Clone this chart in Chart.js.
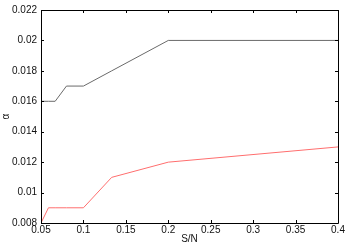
<!DOCTYPE html>
<html>
<head>
<meta charset="utf-8">
<script src="https://cdn.jsdelivr.net/npm/chart.js@4"></script>
<style>
  html, body { margin: 0; padding: 0; background: #fff; }
  #wrap { width: 350px; height: 245px; }
</style>
</head>
<body>
<div id="wrap"><canvas id="chart"></canvas></div>
<script>
// S/N values and the two alpha curves
const snValues = [0.05, 0.0588, 0.0667, 0.08, 0.1, 0.1333, 0.2, 0.4];
const alphaUpper = [0.016, 0.016, 0.016, 0.017, 0.017, 0.018, 0.020, 0.020];
const alphaLower = [0.008, 0.009, 0.009, 0.009, 0.009, 0.011, 0.012, 0.013];

const xTicks = [0.05, 0.1, 0.15, 0.2, 0.25, 0.3, 0.35, 0.4];
const yTicks = [0.008, 0.01, 0.012, 0.014, 0.016, 0.018, 0.02, 0.022];

const toPoints = (ys) => snValues.map((x, i) => ({ x: x, y: ys[i] }));
const fmt = (v) => String(Number(v.toFixed(4)));

// box around the plot with inward ticks on every side (matlab look)
const frame = {
  id: 'frame',
  afterDraw(chart) {
    const ctx = chart.ctx;
    const a = chart.chartArea;
    const xs = chart.scales.x, ys = chart.scales.y;
    const len = 3;
    ctx.save();
    ctx.strokeStyle = '#000';
    ctx.lineWidth = 1;
    ctx.beginPath();
    ctx.rect(Math.round(a.left) + 0.5, Math.round(a.top) + 0.5,
             Math.round(a.right - a.left), Math.round(a.bottom - a.top));
    xTicks.forEach((t) => {
      const px = Math.round(xs.getPixelForValue(t)) + 0.5;
      ctx.moveTo(px, a.bottom); ctx.lineTo(px, a.bottom - len);
      ctx.moveTo(px, a.top); ctx.lineTo(px, a.top + len);
    });
    yTicks.forEach((t) => {
      const py = Math.round(ys.getPixelForValue(t)) + 0.5;
      ctx.moveTo(a.left, py); ctx.lineTo(a.left + len, py);
      ctx.moveTo(a.right, py); ctx.lineTo(a.right - len, py);
    });
    ctx.stroke();
    ctx.restore();
  }
};

Chart.defaults.font.family = '"Liberation Sans", Arial, sans-serif';
Chart.defaults.font.size = 10;
Chart.defaults.color = '#111';

new Chart(document.getElementById('chart'), {
  type: 'scatter',
  data: {
    datasets: [
      {
        data: toPoints(alphaUpper),
        showLine: true,
        borderColor: '#6a6a6a',
        borderWidth: 1,
        pointRadius: 0
      },
      {
        data: toPoints(alphaLower),
        showLine: true,
        borderColor: '#ff6e6e',
        borderWidth: 1,
        pointRadius: 0
      }
    ]
  },
  options: {
    responsive: true,
    maintainAspectRatio: false,
    animation: false,
    layout: { padding: { top: 8, right: 12, left: 0, bottom: 0 } },
    plugins: {
      legend: { display: false },
      tooltip: { enabled: false }
    },
    scales: {
      x: {
        type: 'linear',
        min: 0.05,
        max: 0.4,
        afterBuildTicks: (s) => { s.ticks = xTicks.map((v) => ({ value: v })); },
        afterFit: (s) => { s.height = 22; },
        grid: { display: false, drawTicks: false, tickLength: 0 },
        border: { display: false },
        ticks: { padding: 1, callback: fmt, maxRotation: 0 },
        title: { display: true, text: 'S/N', padding: { top: 0, bottom: 0 } }
      },
      y: {
        type: 'linear',
        min: 0.008,
        max: 0.022,
        afterBuildTicks: (s) => { s.ticks = yTicks.map((v) => ({ value: v })); },
        afterFit: (s) => { s.width = 41; },
        grid: { display: false, drawTicks: false, tickLength: 0 },
        border: { display: false },
        ticks: { padding: 4, callback: fmt },
        title: { display: true, text: 'α', padding: { top: 0, bottom: 0 } }
      }
    }
  },
  plugins: [frame]
});
</script>
</body>
</html>
